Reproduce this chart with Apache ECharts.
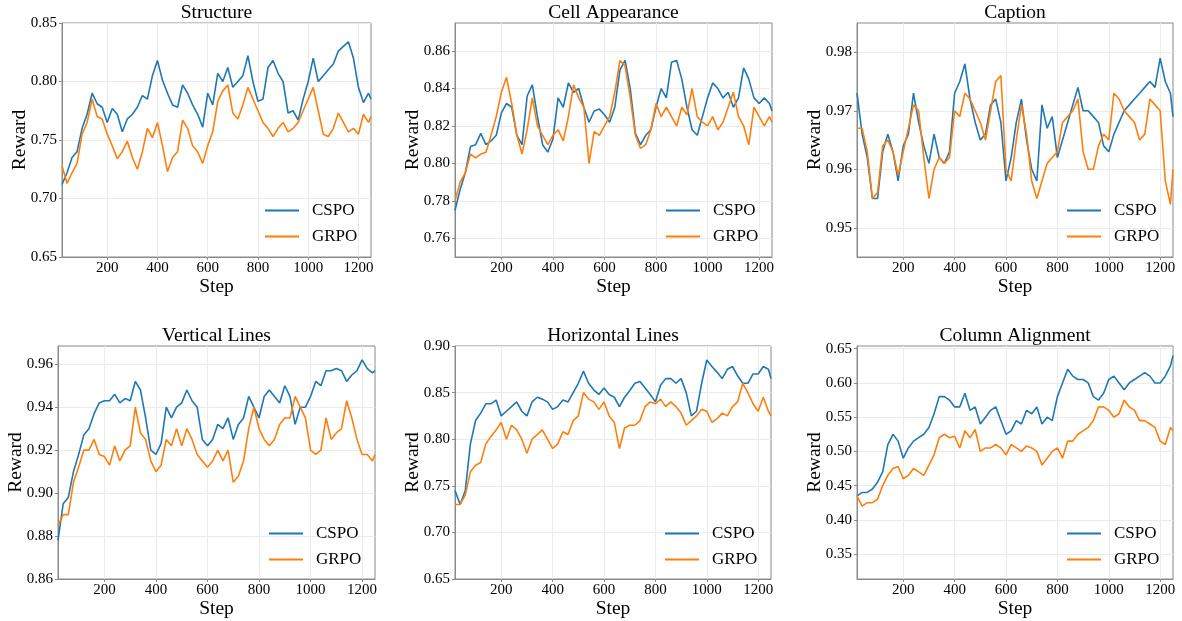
<!DOCTYPE html>
<html>
<head>
<meta charset="utf-8">
<title>reward curves</title>
<script src="https://cdn.jsdelivr.net/npm/echarts@6.0.0/dist/echarts.min.js"></script>
<style>
  body{margin:0;padding:0;background:#fff;}
  #chart{width:1182px;height:621px;}
</style>
</head>
<body>
<div id="chart"></div>
<script>
var steps = [20,40,60,80,100,120,140,160,180,200,220,240,260,280,300,320,340,360,380,400,
  420,440,460,480,500,520,540,560,580,600,620,640,660,680,700,720,740,760,780,800,
  820,840,860,880,900,920,940,960,980,1000,1020,1040,1060,1080,1100,1120,1140,1160,1180,1200,
  1220,1240,1250];
var xTicks = [200,400,600,800,1000,1200];

var structureCspo = [0.712,0.722,0.735,0.740,0.760,0.772,0.790,0.781,0.778,0.765,
  0.777,0.772,0.757,0.768,0.772,0.778,0.788,0.785,0.805,0.818,
  0.801,0.790,0.780,0.778,0.797,0.790,0.780,0.772,0.761,0.790,
  0.780,0.807,0.800,0.812,0.795,0.800,0.805,0.822,0.800,0.783,
  0.785,0.812,0.818,0.807,0.800,0.773,0.775,0.767,0.785,0.800,
  0.820,0.800,0.805,0.810,0.815,0.826,0.830,0.834,0.820,0.795,
  0.782,0.790,0.785];
var structureGrpo = [0.728,0.713,0.722,0.730,0.755,0.765,0.785,0.770,0.768,0.755,
  0.745,0.734,0.740,0.749,0.735,0.725,0.740,0.760,0.752,0.765,
  0.745,0.723,0.735,0.740,0.767,0.760,0.745,0.740,0.730,0.745,
  0.757,0.783,0.792,0.797,0.773,0.768,0.780,0.795,0.785,0.775,
  0.765,0.760,0.753,0.760,0.765,0.757,0.760,0.765,0.775,0.785,
  0.795,0.775,0.755,0.753,0.760,0.773,0.765,0.757,0.760,0.755,
  0.772,0.765,0.770];

var cellCspo = [0.775,0.786,0.795,0.809,0.810,0.816,0.810,0.812,0.815,0.827,
  0.832,0.830,0.815,0.810,0.836,0.842,0.825,0.810,0.806,0.813,
  0.835,0.830,0.843,0.838,0.840,0.830,0.822,0.828,0.829,0.826,
  0.822,0.830,0.850,0.855,0.840,0.816,0.810,0.815,0.818,0.830,
  0.840,0.835,0.854,0.855,0.845,0.830,0.818,0.815,0.825,0.835,
  0.843,0.840,0.835,0.838,0.830,0.835,0.851,0.845,0.835,0.832,
  0.835,0.832,0.828];
var cellGrpo = [0.780,0.790,0.795,0.805,0.803,0.805,0.806,0.815,0.825,0.838,
  0.846,0.832,0.815,0.805,0.818,0.835,0.820,0.815,0.810,0.815,
  0.818,0.812,0.825,0.842,0.835,0.830,0.800,0.817,0.815,0.820,
  0.825,0.838,0.855,0.852,0.835,0.815,0.808,0.810,0.818,0.832,
  0.825,0.830,0.825,0.820,0.830,0.826,0.840,0.825,0.822,0.820,
  0.825,0.818,0.822,0.830,0.838,0.825,0.820,0.810,0.830,0.825,
  0.820,0.825,0.822];

var captionCspo = [0.973,0.966,0.962,0.955,0.955,0.963,0.966,0.963,0.958,0.964,
  0.966,0.973,0.968,0.964,0.961,0.966,0.962,0.961,0.963,0.973,
  0.975,0.978,0.972,0.968,0.965,0.966,0.971,0.972,0.968,0.958,
  0.962,0.968,0.972,0.965,0.960,0.958,0.971,0.967,0.969,0.962,
  0.965,0.968,0.971,0.974,0.970,0.970,0.969,0.968,0.964,0.963,
  0.966,0.968,0.970,0.971,0.972,0.973,0.974,0.975,0.974,0.979,
  0.975,0.973,0.969];
var captionGrpo = [0.967,0.967,0.963,0.955,0.956,0.964,0.965,0.963,0.959,0.963,
  0.967,0.971,0.970,0.962,0.955,0.960,0.962,0.961,0.962,0.970,
  0.969,0.973,0.972,0.970,0.968,0.965,0.970,0.975,0.976,0.960,
  0.958,0.965,0.971,0.966,0.958,0.955,0.958,0.961,0.962,0.963,
  0.968,0.969,0.970,0.972,0.963,0.960,0.960,0.964,0.966,0.965,
  0.973,0.972,0.970,0.969,0.968,0.965,0.966,0.972,0.971,0.970,
  0.958,0.954,0.960];

var verticalCspo = [0.878,0.895,0.898,0.910,0.918,0.927,0.930,0.937,0.942,0.943,
  0.943,0.946,0.942,0.944,0.943,0.952,0.948,0.935,0.920,0.918,
  0.923,0.940,0.935,0.940,0.942,0.948,0.943,0.940,0.925,0.922,
  0.925,0.932,0.930,0.935,0.925,0.932,0.935,0.945,0.940,0.935,
  0.945,0.948,0.945,0.942,0.950,0.945,0.932,0.940,0.940,0.945,
  0.952,0.950,0.957,0.957,0.958,0.957,0.952,0.955,0.957,0.962,
  0.958,0.956,0.957];
var verticalGrpo = [0.885,0.890,0.890,0.905,0.912,0.920,0.920,0.925,0.918,0.917,
  0.913,0.922,0.915,0.920,0.922,0.940,0.928,0.925,0.915,0.910,
  0.913,0.925,0.922,0.930,0.922,0.930,0.925,0.918,0.915,0.912,
  0.915,0.920,0.915,0.920,0.905,0.908,0.915,0.930,0.940,0.930,
  0.925,0.922,0.925,0.932,0.935,0.935,0.945,0.940,0.935,0.920,
  0.918,0.920,0.935,0.925,0.928,0.930,0.943,0.935,0.925,0.918,
  0.918,0.915,0.918];

var horizontalCspo = [0.745,0.730,0.745,0.795,0.820,0.828,0.838,0.838,0.842,0.825,
  0.830,0.835,0.840,0.830,0.825,0.840,0.845,0.843,0.840,0.832,
  0.835,0.842,0.840,0.850,0.860,0.873,0.860,0.853,0.848,0.855,
  0.848,0.845,0.835,0.845,0.852,0.860,0.862,0.855,0.848,0.840,
  0.858,0.865,0.865,0.860,0.865,0.850,0.825,0.830,0.860,0.885,
  0.878,0.872,0.865,0.875,0.878,0.868,0.860,0.860,0.870,0.870,
  0.878,0.875,0.865];
var horizontalGrpo = [0.730,0.730,0.740,0.765,0.772,0.775,0.795,0.803,0.810,0.818,
  0.800,0.815,0.810,0.800,0.785,0.800,0.805,0.810,0.800,0.790,
  0.795,0.808,0.805,0.820,0.825,0.850,0.843,0.840,0.832,0.840,
  0.825,0.818,0.790,0.812,0.815,0.815,0.820,0.835,0.840,0.838,
  0.843,0.835,0.840,0.835,0.828,0.815,0.820,0.825,0.832,0.830,
  0.818,0.822,0.828,0.825,0.835,0.840,0.860,0.850,0.838,0.830,
  0.845,0.830,0.825];

var columnCspo = [0.435,0.440,0.440,0.445,0.455,0.470,0.510,0.525,0.515,0.490,
  0.505,0.515,0.520,0.525,0.535,0.555,0.580,0.580,0.575,0.565,
  0.565,0.585,0.560,0.565,0.540,0.550,0.560,0.565,0.545,0.525,
  0.530,0.545,0.540,0.560,0.555,0.565,0.540,0.550,0.545,0.580,
  0.600,0.620,0.610,0.605,0.605,0.600,0.580,0.575,0.585,0.605,
  0.610,0.600,0.590,0.600,0.605,0.610,0.615,0.610,0.600,0.600,
  0.610,0.625,0.640];
var columnGrpo = [0.435,0.420,0.425,0.425,0.430,0.450,0.465,0.475,0.478,0.460,
  0.465,0.475,0.470,0.465,0.480,0.495,0.520,0.525,0.520,0.522,
  0.505,0.530,0.520,0.532,0.500,0.505,0.505,0.510,0.505,0.495,
  0.510,0.505,0.500,0.508,0.505,0.500,0.480,0.490,0.500,0.505,
  0.490,0.515,0.515,0.525,0.530,0.535,0.545,0.565,0.565,0.560,
  0.550,0.555,0.575,0.565,0.560,0.545,0.545,0.540,0.535,0.515,
  0.510,0.535,0.530];

// y tick labels per panel
var structureTicks = [0.65,0.70,0.75,0.80,0.85];
var cellTicks = [0.76,0.78,0.80,0.82,0.84,0.86];
var captionTicks = [0.95,0.96,0.97,0.98];
var verticalTicks = [0.86,0.88,0.90,0.92,0.94,0.96];
var horizontalTicks = [0.65,0.70,0.75,0.80,0.85,0.90];
var columnTicks = [0.35,0.40,0.45,0.50,0.55,0.60,0.65];

var FONT = '"Liberation Serif", "Times New Roman", serif';
var BLUE = '#1f77b4', ORANGE = '#ff7f0e';

var panels = [
  {title:'Structure', cspo:structureCspo, grpo:structureGrpo, ticks:structureTicks, min:0.65, max:0.85,
   box:{left:62, top:23, width:309, height:234}},
  {title:'Cell Appearance', cspo:cellCspo, grpo:cellGrpo, ticks:cellTicks, min:0.75, max:0.875,
   box:{left:455, top:23, width:317, height:234}},
  {title:'Caption', cspo:captionCspo, grpo:captionGrpo, ticks:captionTicks, min:0.945, max:0.985,
   box:{left:857, top:23, width:316, height:234}},
  {title:'Vertical Lines', cspo:verticalCspo, grpo:verticalGrpo, ticks:verticalTicks, min:0.86, max:0.9685,
   box:{left:58, top:346, width:317, height:233}},
  {title:'Horizontal Lines', cspo:horizontalCspo, grpo:horizontalGrpo, ticks:horizontalTicks, min:0.65, max:0.90,
   box:{left:455, top:346, width:316, height:233}},
  {title:'Column Alignment', cspo:columnCspo, grpo:columnGrpo, ticks:columnTicks, min:0.3135, max:0.654,
   box:{left:857, top:346, width:316, height:233}}
];

function pairs(vals) {
  return steps.map(function (s, k) { return [s, vals[k]]; });
}

var grids = [], xAxes = [], yAxes = [], series = [], titles = [], legends = [];
panels.forEach(function (p, i) {
  var b = p.box;
  grids.push({left:b.left, top:b.top, width:b.width, height:b.height,
    show:true, borderColor:'#8a8a8a', borderWidth:1});

  titles.push({text:p.title, left:b.left + b.width / 2, top:b.top - 20, textAlign:'center',
    padding:0,
    textStyle:{fontFamily:FONT, fontSize:19.5, fontWeight:'normal', color:'#000'}});

  xAxes.push({gridIndex:i, type:'value', min:20, max:1250,
    name:'Step', nameLocation:'middle', nameGap:17,
    nameTextStyle:{fontFamily:FONT, fontSize:19.5, color:'#000', verticalAlign:'top'},
    axisLine:{show:true, lineStyle:{color:'#8a8a8a', width:1}},
    axisTick:{show:true, length:3, lineStyle:{color:'#8a8a8a'}, customValues:xTicks},
    axisLabel:{fontFamily:FONT, fontSize:15, color:'#000', margin:4, customValues:xTicks,
      formatter:function (v) { return String(v); }},
    splitLine:{show:true, lineStyle:{color:'#ebebeb', width:1}}
  });

  // keep the name at a fixed distance instead of letting it be pushed past the labels
  yAxes.push({gridIndex:i, type:'value', min:p.min, max:p.max,
    name:'Reward', nameLocation:'middle', nameGap:32, nameRotate:90, nameMoveOverlap:false,
    nameTextStyle:{fontFamily:FONT, fontSize:19.5, color:'#000'},
    axisLine:{show:true, lineStyle:{color:'#8a8a8a', width:1}},
    axisTick:{show:true, length:3, lineStyle:{color:'#8a8a8a'}, customValues:p.ticks},
    axisLabel:{fontFamily:FONT, fontSize:15, color:'#000', margin:5, customValues:p.ticks,
      formatter:function (v) { return v.toFixed(2); }},
    splitLine:{show:true, lineStyle:{color:'#ebebeb', width:1}}
  });

  series.push({name:'CSPO', type:'line', xAxisIndex:i, yAxisIndex:i, data:pairs(p.cspo),
    symbol:'none', lineStyle:{color:BLUE, width:1.6}, itemStyle:{color:BLUE}});
  series.push({name:'GRPO', type:'line', xAxisIndex:i, yAxisIndex:i, data:pairs(p.grpo),
    symbol:'none', lineStyle:{color:ORANGE, width:1.6}, itemStyle:{color:ORANGE}});

  // thin rect icon so the legend shows a plain line sample
  legends.push({data:['CSPO','GRPO'], orient:'vertical', selectedMode:false,
    left:b.left + b.width - 106, top:b.top + 179, icon:'rect',
    itemWidth:34, itemHeight:2, itemGap:9, padding:0,
    textStyle:{fontFamily:FONT, fontSize:17, lineHeight:14, color:'#000', padding:[0,0,0,8]}});
});

var chart = echarts.init(document.getElementById('chart'));
chart.setOption({
  animation:false,
  backgroundColor:'#fff',
  title:titles,
  legend:legends,
  grid:grids,
  xAxis:xAxes,
  yAxis:yAxes,
  series:series
});
</script>
</body>
</html>
